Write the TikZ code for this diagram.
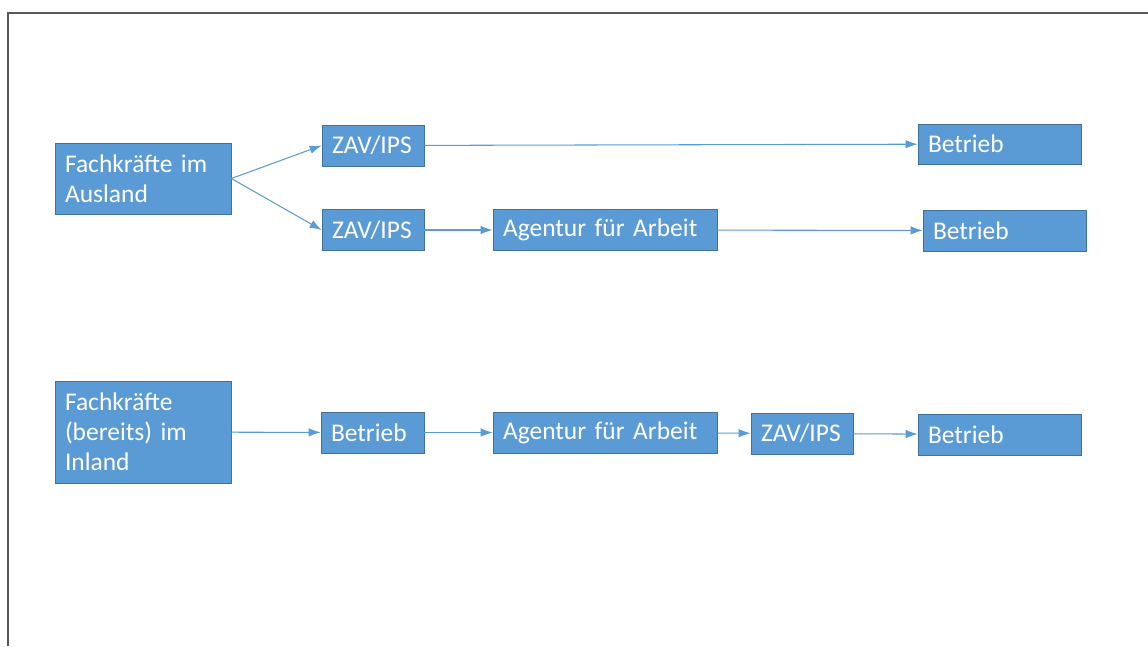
\documentclass[tikz,border=0pt]{standalone}
\usepackage{fontspec}
\setmainfont{Carlito}
\usepackage{tikz}
\usetikzlibrary{arrows.meta}

\definecolor{boxfill}{HTML}{5B9BD5}
\definecolor{boxline}{HTML}{41719C}
\definecolor{arrowline}{HTML}{5B9BD5}
\definecolor{frameline}{HTML}{595959}

\tikzset{
  box/.style={draw=boxline, fill=boxfill, text=white, align=left,
    inner xsep=0.2cm, inner ysep=0pt, minimum height=0.82cm,
    font=\fontsize{14.5pt}{17pt}\selectfont},
  flow/.style={color=arrowline, line width=0.6pt,
    -{Latex[length=2.4mm,width=1.7mm]}}
}

\begin{document}
\begin{tikzpicture}
    \useasboundingbox (0,0) rectangle (22.96,-12.92);
    \draw[frameline, line width=0.9pt] (0.16,-12.92) -- (0.16,-0.26) -- (22.96,-0.26);

    \node[box, text width=3.12cm, minimum height=1.42cm] at (2.86,-3.57) (Ausland) {Fachkräfte im\\Ausland};
    \node[box, text width=1.64cm] at (7.46,-2.91) (ZAVa) {ZAV/IPS};
    \node[box, text width=2.86cm, minimum height=0.80cm] at (19.99,-2.88) (Betrieba) {Betrieb};
    \node[box, text width=1.64cm] at (7.46,-4.60) (ZAVb) {ZAV/IPS};
    \node[box, text width=4.08cm] at (12.10,-4.60) (AfAa) {Agentur für Arbeit};
    \node[box, text width=2.86cm] at (20.09,-4.61) (Betriebb) {Betrieb};

    \node[box, text width=3.12cm, minimum height=2.04cm] at (2.86,-8.64) (Inland) {Fachkräfte\\(bereits) im\\Inland};
    \node[box, text width=1.66cm] at (7.45,-8.65) (Betriebc) {Betrieb};
    \node[box, text width=4.08cm] at (12.10,-8.65) (AfAb) {Agentur für Arbeit};
    \node[box, text width=1.64cm] at (16.04,-8.67) (ZAVc) {ZAV/IPS};
    \node[box, text width=2.86cm] at (19.99,-8.69) (Betriebd) {Betrieb};

    \draw [flow] (Ausland.east) -- (ZAVa.west);
    \draw [flow] (Ausland.east) -- (ZAVb.west);
    \draw [flow] (ZAVa) -- (Betrieba);
    \draw [flow] (ZAVb) -- (AfAa);
    \draw [flow] (AfAa) -- (Betriebb);
    \draw [flow] (Inland) -- (Betriebc);
    \draw [flow] (Betriebc) -- (AfAb);
    \draw [flow] (AfAb) -- (ZAVc);
    \draw [flow] (ZAVc) -- (Betriebd);
\end{tikzpicture}
\end{document}
